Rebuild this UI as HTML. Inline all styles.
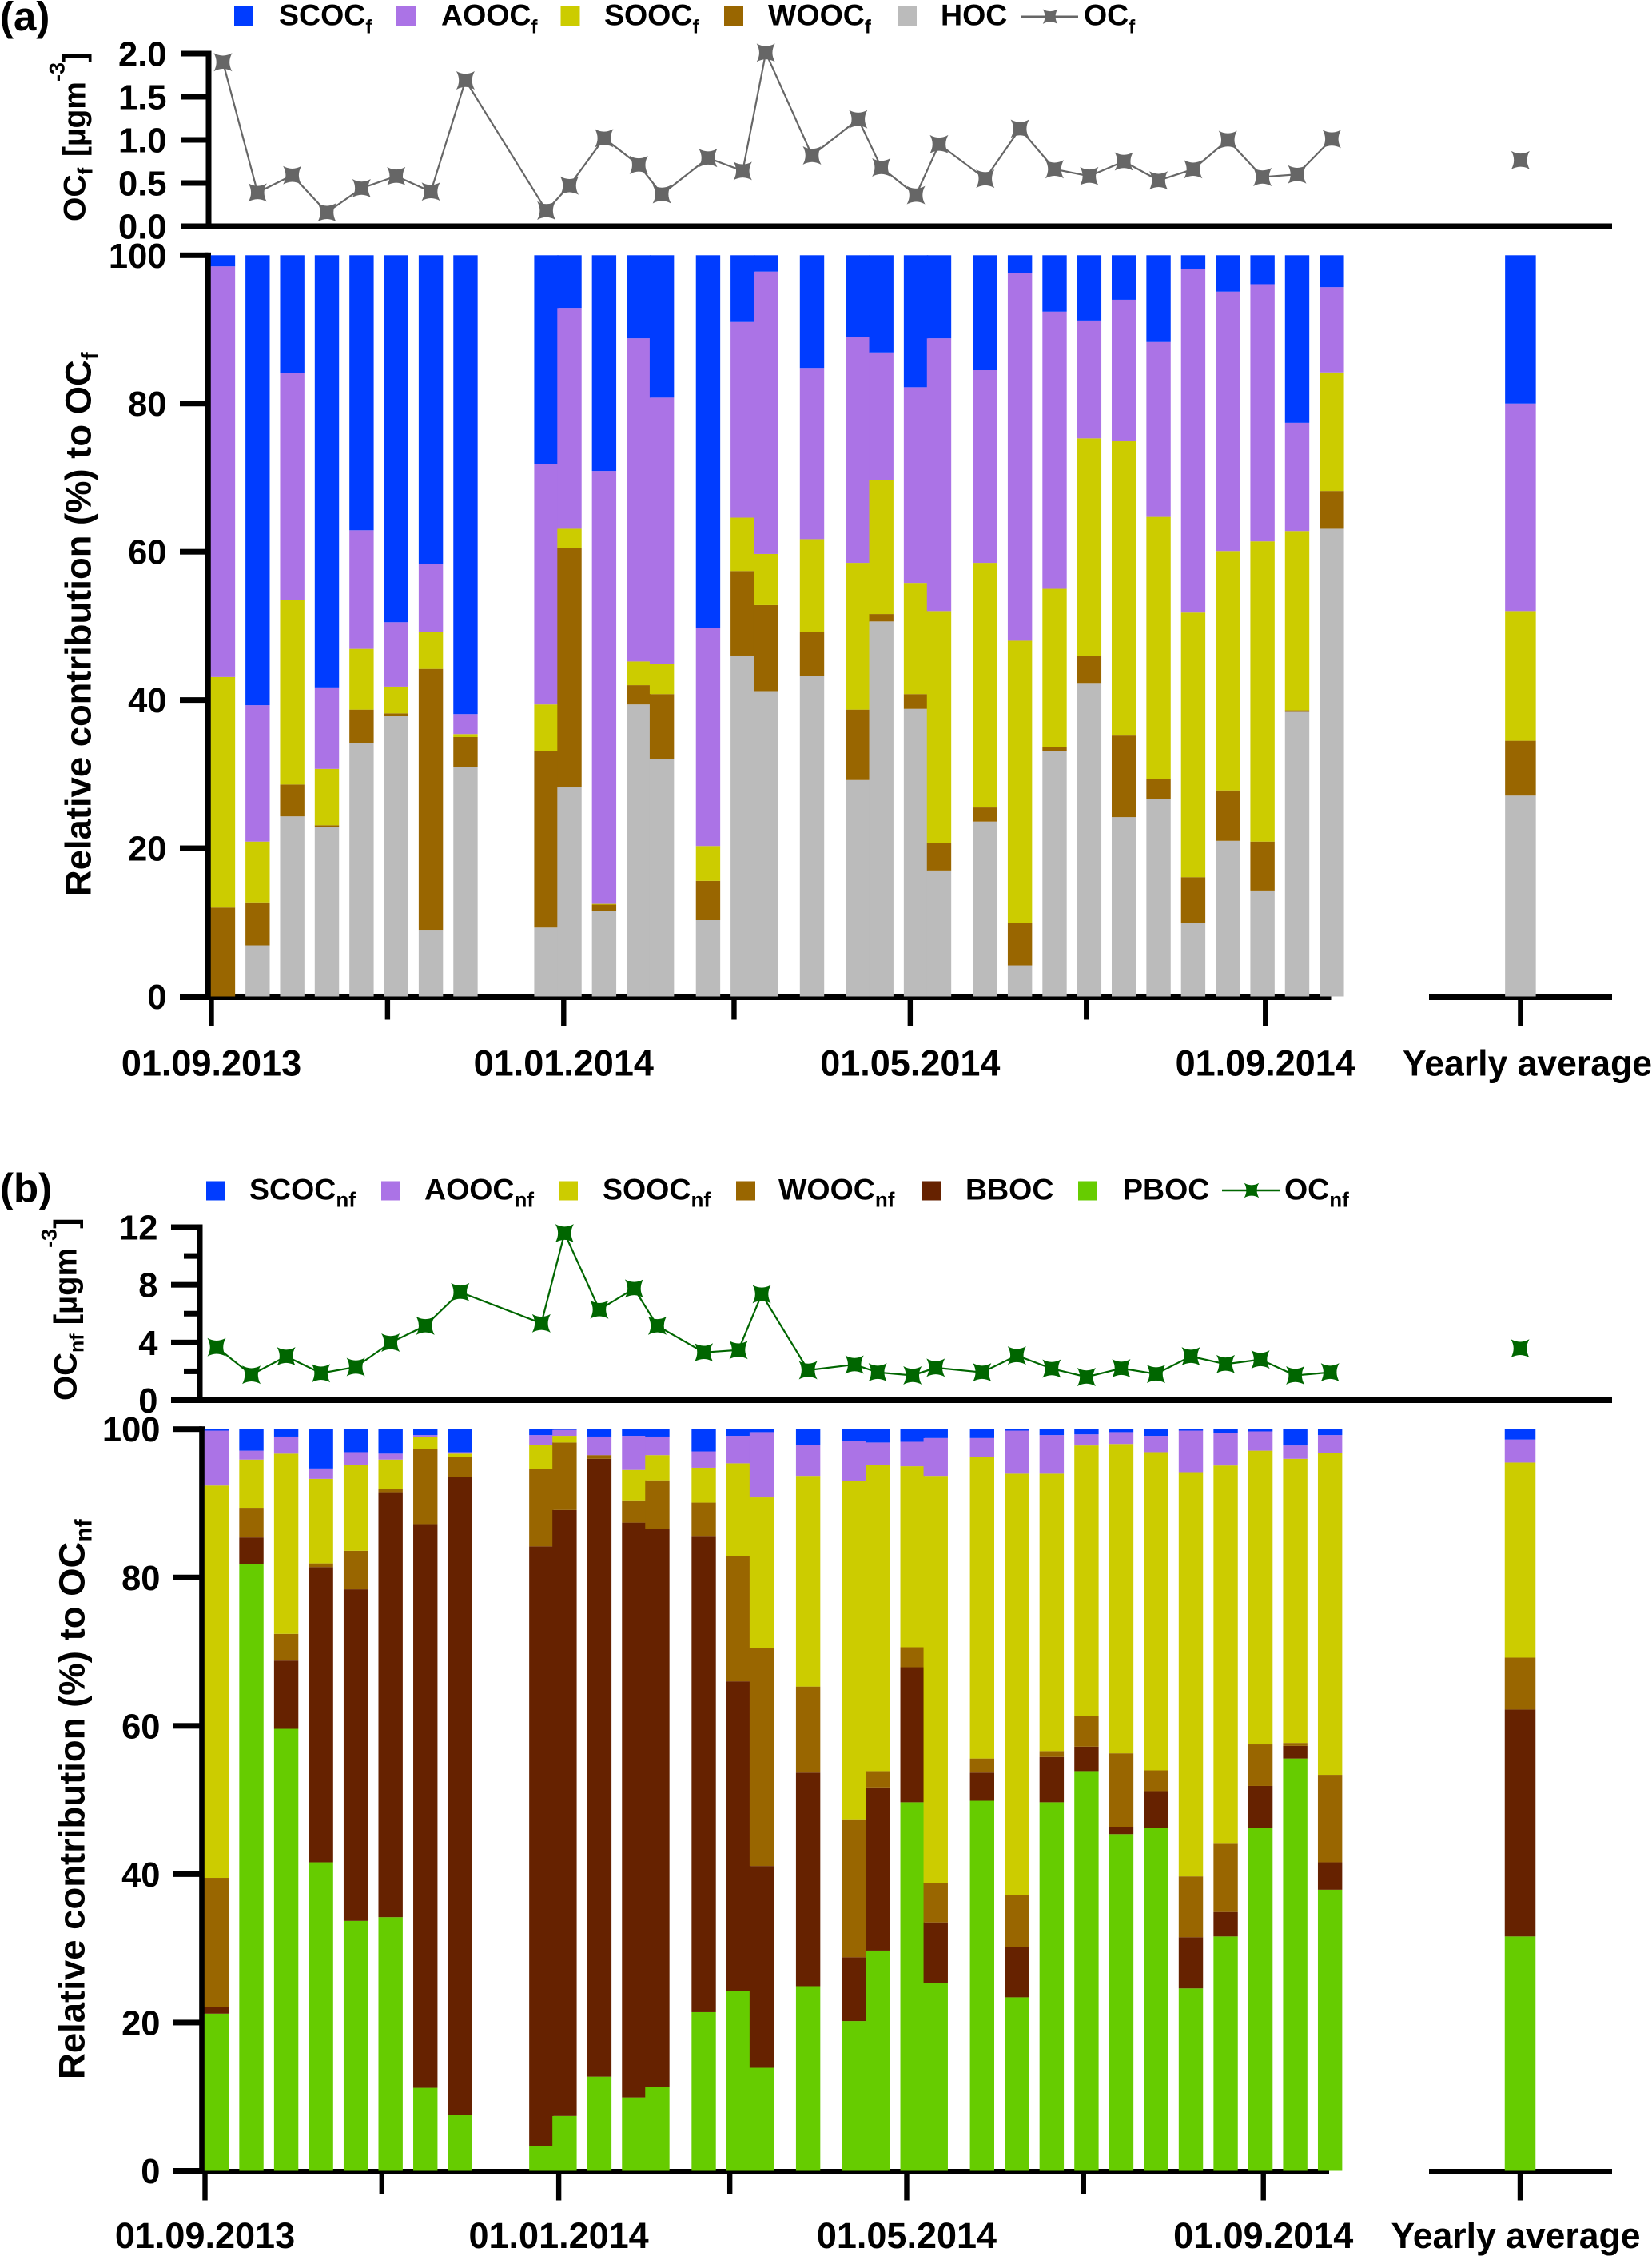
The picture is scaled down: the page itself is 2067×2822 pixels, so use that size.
<!DOCTYPE html>
<html lang="en">
<head>
<meta charset="utf-8">
<title>Relative contribution of OC sources</title>
<style>
html,body{margin:0;padding:0;background:#fff;}
svg{display:block;}
text{font-family:"Liberation Sans",Arial,sans-serif;font-weight:bold;fill:#000;}
</style>
</head>
<body>
<svg id="chart" xmlns="http://www.w3.org/2000/svg" width="2067" height="2822" viewBox="0 0 2067 2822">
  <defs>
    <path id="star" d="M-11.5,-11.5 Q0,-5 11.5,-11.5 Q5,0 11.5,11.5 Q0,5 -11.5,11.5 Q-5,0 -11.5,-11.5 Z"/>
  </defs>

  <!-- Panel a labels and legend -->
  <text x="0" y="38" font-size="51">(a)</text>
  <g>
    <rect x="293" y="8" width="24" height="24" fill="#003cff"/>
    <text x="349" y="31.5" font-size="37.5">SCOC<tspan font-size="24" dy="10">f</tspan></text>
    <rect x="496" y="8" width="24" height="24" fill="#ab73e6"/>
    <text x="552" y="31.5" font-size="37.5">AOOC<tspan font-size="24" dy="10">f</tspan></text>
    <rect x="701.5" y="8" width="24" height="24" fill="#cccc00"/>
    <text x="756" y="31.5" font-size="37.5">SOOC<tspan font-size="24" dy="10">f</tspan></text>
    <rect x="906" y="8" width="24" height="24" fill="#996600"/>
    <text x="961" y="31.5" font-size="37.5">WOOC<tspan font-size="24" dy="10">f</tspan></text>
    <rect x="1123" y="8" width="24" height="24" fill="#bbbbbb"/>
    <text x="1177" y="31.5" font-size="37.5">HOC</text>
    <line x1="1278" y1="20.7" x2="1349" y2="20.7" stroke="#666" stroke-width="2.5"/>
    <use href="#star" transform="translate(1314,20.7) scale(0.8)" fill="#666"/>
    <text x="1356" y="31.5" font-size="37.5">OC<tspan font-size="24" dy="10">f</tspan></text>
  </g>
  <text transform="translate(106.5,277) rotate(-90)" font-size="39">OC<tspan font-size="26" dy="9">f</tspan><tspan dy="-9" dx="3"> [µgm</tspan><tspan font-size="27" dy="-26">-3</tspan><tspan dy="26">]</tspan></text>
  <text transform="translate(113.3,1121) rotate(-90)" font-size="45.4">Relative contribution (%) to OC<tspan font-size="30" dy="9">f</tspan></text>

  <!-- Panel b labels and legend -->
  <text x="0" y="1503.5" font-size="51">(b)</text>
  <g>
    <rect x="258" y="1477.5" width="24" height="24" fill="#003cff"/>
    <text x="312" y="1500.4" font-size="37.5">SCOC<tspan font-size="26" dy="9">nf</tspan></text>
    <rect x="477" y="1477.5" width="24" height="24" fill="#ab73e6"/>
    <text x="531" y="1500.4" font-size="37.5">AOOC<tspan font-size="26" dy="9">nf</tspan></text>
    <rect x="699" y="1477.5" width="24" height="24" fill="#cccc00"/>
    <text x="754" y="1500.4" font-size="37.5">SOOC<tspan font-size="26" dy="9">nf</tspan></text>
    <rect x="921" y="1477.5" width="24" height="24" fill="#996600"/>
    <text x="974" y="1500.4" font-size="37.5">WOOC<tspan font-size="26" dy="9">nf</tspan></text>
    <rect x="1154" y="1477.5" width="24" height="24" fill="#662200"/>
    <text x="1208" y="1500.4" font-size="37.5">BBOC</text>
    <rect x="1349" y="1477.5" width="24" height="24" fill="#66cc00"/>
    <text x="1405" y="1500.4" font-size="37.5">PBOC</text>
    <line x1="1529" y1="1489" x2="1602" y2="1489" stroke="#006600" stroke-width="2.5"/>
    <use href="#star" transform="translate(1566,1489) scale(0.8)" fill="#006600"/>
    <text x="1607" y="1500.4" font-size="37.5">OC<tspan font-size="26" dy="9">nf</tspan></text>
  </g>
  <text transform="translate(95.5,1752) rotate(-90)" font-size="40">OC<tspan font-size="25" dy="9">nf</tspan><tspan dy="-9"> [µgm</tspan><tspan font-size="27" dy="-25">-3</tspan><tspan dy="25">]</tspan></text>
  <text transform="translate(105.7,2601) rotate(-90)" font-size="45.5">Relative contribution (%) to OC<tspan font-size="30" dy="9">nf</tspan></text>
</svg>

<script>
// ---- shared categories: sampling day, counted from 01.09.2013 ----
const sampleDays = [4,16,28,40,52,64,76,88,116,124,136,148,156,172,184,192,208,224,232,244,252,268,280,292,304,316,328,340,352,364,376,388];
const dateTickDays = [0,122,242,365];
const dateTickLabels = ["01.09.2013","01.01.2014","01.05.2014","01.09.2014"];
const minorTickDays = [61,181,303];
const yearlyLabel = "Yearly average";

// ---- tick labels ----
const ocFTicks = [0,0.5,1,1.5,2];
const ocFTickLabels = ["0.0","0.5","1.0","1.5","2.0"];
const ocNfMajorTicks = [0,4,8,12];
const ocNfTickLabels = ["0","4","8","12"];
const ocNfMinorTicks = [2,6,10];
const shareTicks = [0,20,40,60,80,100];
const shareTickLabels = ["0","20","40","60","80","100"];

// ---- panel (a) values ----
const ocF = [1.90,0.39,0.59,0.16,0.44,0.58,0.40,1.69,0.18,0.47,1.02,0.71,0.37,0.79,0.64,2.01,0.82,1.24,0.68,0.36,0.95,0.55,1.13,0.66,0.58,0.75,0.53,0.66,1.00,0.57,0.60,1.01];
const ocFYearly = [0.765];
const hocF = [0,6.9,24.3,22.9,34.2,37.8,9.0,30.9,9.3,28.2,11.5,39.4,32.0,10.3,46.0,41.2,43.3,29.2,50.6,38.8,17.0,23.6,4.2,33.1,42.3,24.2,26.6,9.9,21.0,14.3,38.4,63.1];
const woocF = [12.0,5.8,4.3,0.2,4.5,0.4,35.2,4.1,23.8,32.3,0.9,2.6,8.8,5.3,11.4,11.6,5.9,9.5,1.0,2.0,3.7,1.9,5.7,0.5,3.7,11.0,2.7,6.2,6.8,6.6,0.2,5.1];
const soocF = [31.1,8.2,24.9,7.6,8.2,3.6,5.0,0.4,6.3,2.6,0.1,3.2,4.1,4.7,7.2,6.9,12.5,19.8,18.1,15.0,31.3,33.0,38.1,21.4,29.3,39.7,35.4,35.7,32.3,40.5,24.2,16.0];
const aoocF = [55.4,18.4,30.6,11.0,16.0,8.7,9.2,2.7,32.4,29.8,58.4,43.6,35.9,29.4,26.4,38.1,23.1,30.5,17.2,26.4,36.8,26.0,49.6,37.4,15.9,19.1,23.6,46.4,35.0,34.7,14.6,11.5];
const scocF = [1.5,60.7,15.9,58.3,37.1,49.5,41.6,61.9,28.2,7.1,29.1,11.2,19.2,50.3,9.0,2.2,15.2,11.0,13.1,17.8,11.2,15.5,2.4,7.6,8.8,6.0,11.7,1.8,4.9,3.9,22.6,4.3];
const yearlyF = [27.1,7.4,17.5,28.0,20.0];

// ---- panel (b) values ----
const ocNf = [3.67,1.76,3.04,1.87,2.30,3.99,5.16,7.49,5.33,11.58,6.28,7.74,5.16,3.31,3.48,7.35,2.08,2.47,1.93,1.72,2.25,1.93,3.10,2.19,1.61,2.21,1.82,3.04,2.50,2.82,1.72,1.93];
const ocNfYearly = [3.59];
const pboc = [21.2,81.8,59.6,41.6,33.7,34.2,11.2,7.5,3.3,7.4,12.7,9.9,11.3,21.4,24.3,13.9,24.9,20.2,29.7,49.7,25.3,49.9,23.4,49.7,53.9,45.4,46.2,24.6,31.6,46.2,55.6,37.9];
const bboc = [0.9,3.6,9.2,39.8,44.7,57.3,76.0,86.0,80.9,81.7,83.3,77.5,75.2,64.2,41.7,27.2,28.8,8.6,22.0,18.2,8.2,3.8,6.8,6.1,3.3,1.0,5.0,6.9,3.3,5.7,1.7,3.7];
const woocNf = [17.4,4.0,3.6,0.5,5.2,0.4,10.1,2.8,10.4,9.1,0.5,3.0,6.6,4.5,16.9,29.4,11.6,18.6,2.2,2.7,5.3,1.9,7.0,0.8,4.1,9.9,2.8,8.2,9.2,5.6,0.4,11.8];
const soocNf = [52.9,6.5,24.3,11.4,11.6,4.0,1.7,0.4,3.3,0.9,0,4.1,3.4,4.7,12.5,20.3,28.4,45.6,41.3,24.4,54.9,40.7,56.8,37.4,36.5,41.7,42.9,54.5,51.0,39.6,38.3,43.4];
const aoocNf = [7.4,1.2,2.3,1.4,1.7,0.8,0.2,0.2,1.3,0.8,2.5,4.6,2.5,2.2,3.7,8.8,4.2,5.4,3.0,3.3,5.1,2.5,5.8,5.2,1.5,1.6,2.2,5.6,4.4,2.6,1.8,2.4];
const scocNf = [0.2,2.9,1.0,5.3,3.1,3.3,0.8,3.1,0.8,0.1,1.0,0.9,1.0,3.0,0.9,0.4,2.1,1.6,1.8,1.7,1.2,1.2,0.2,0.8,0.7,0.4,0.9,0.2,0.5,0.3,2.2,0.8];
const yearlyNf = [31.6,30.6,7.0,26.3,3.1,1.4];

const seriesNamesF = ["hoc","wooc-f","sooc-f","aooc-f","scoc-f"];
const seriesNamesNf = ["pboc","bboc","wooc-nf","sooc-nf","aooc-nf","scoc-nf"];

const svg = document.getElementById('chart');
const NS = 'http://www.w3.org/2000/svg';
function make(tag, props, parent) {
  const node = document.createElementNS(NS, tag);
  for (const key in props) node.setAttribute(key, props[key]);
  parent.appendChild(node);
  return node;
}

function drawPanel(p) {
  const root = make('g', {}, svg);
  
  

  const xDay = d => p.x0 + p.dayScale * d;
  const yTop = v => p.topZero - p.topScale * v;
  const yShare = v => p.shareZero - p.shareScale * v;

  // --- upper plot axes ---
  const topAxisY = make('rect', {x: p.axisX - 3.5, y: p.topAxisStart, width: 7, height: p.topZero - p.topAxisStart + 3.5, fill: '#000'}, root);
  
  
  const topAxisX = make('rect', {x: p.tickLeft, y: p.topZero - 3.5, width: 2017 - p.tickLeft, height: 7, fill: '#000'}, root);
  
  

  p.topTicks.forEach((v, i) => {
    const tick = make('rect', {x: p.tickLeft, y: yTop(v) - 3.5, width: p.axisX - p.tickLeft, height: 7, fill: '#000'}, root);
    
    
    const label = make('text', {x: p.topLabelX, y: yTop(v) + 15.5, 'font-size': 43.5, 'text-anchor': 'end'}, root);
    label.textContent = p.topTickLabels[i];
    
    
  });
  p.topMinor.forEach(v => {
    const tick = make('rect', {x: p.axisX - 20, y: yTop(v) - 3.5, width: 20, height: 7, fill: '#000'}, root);
    
    
  });

  // --- lower plot axes ---
  const shareAxisY = make('rect', {x: p.shareAxisX - 3.5, y: yShare(100) - 3.5, width: 7, height: p.shareScale * 100 + 7, fill: '#000'}, root);
  
  
  const shareAxisX = make('rect', {x: p.shareTickLeft, y: p.shareZero - 2.5, width: p.axisEnd - p.shareTickLeft, height: 7, fill: '#000'}, root);
  
  
  const yearlyAxisX = make('rect', {x: 1788, y: p.shareZero - 2.5, width: 229, height: 7, fill: '#000'}, root);
  
  

  shareTicks.forEach((v, i) => {
    const tick = make('rect', {x: p.shareTickLeft, y: yShare(v) - 3.5, width: p.shareAxisX - p.shareTickLeft, height: 7, fill: '#000'}, root);
    
    
    const label = make('text', {x: p.shareLabelX, y: yShare(v) + 15.5, 'font-size': 43.5, 'text-anchor': 'end'}, root);
    label.textContent = shareTickLabels[i];
    
    
  });

  dateTickDays.forEach((d, i) => {
    const tick = make('rect', {x: xDay(d) - 3.2, y: p.shareZero, width: 6.4, height: 37, fill: '#000'}, root);
    
    
    const label = make('text', {x: xDay(d), y: p.dateBaseline, 'font-size': 45, 'text-anchor': 'middle'}, root);
    label.textContent = dateTickLabels[i];
    
    
  });
  minorTickDays.forEach(d => {
    const tick = make('rect', {x: xDay(d) - 3.2, y: p.shareZero, width: 6.4, height: 29, fill: '#000'}, root);
    
    
  });
  const yTick = make('rect', {x: p.yearlyX - 3.2, y: p.shareZero, width: 6.4, height: 37, fill: '#000'}, root);
  
  
  const yLabel = make('text', {x: p.yearlyLabelX, y: p.dateBaseline, 'font-size': 45, 'text-anchor': 'middle', textLength: 312, lengthAdjust: 'spacingAndGlyphs'}, root);
  yLabel.textContent = yearlyLabel;
  
  

  // --- stacked bars ---
  const drawStack = (cx, width, values, barName) => {
    let base = 0;
    values.forEach((value, s) => {
      if (value <= 0) return;
      const seg = make('rect', {
        x: cx - width / 2,
        y: yShare(base + value),
        width: width,
        height: yShare(base) - yShare(base + value),
        fill: p.colors[s]
      }, root);
      
      
      base += value;
    });
  };
  sampleDays.forEach((d, i) => {
    drawStack(xDay(d), 30.4, p.series.map(col => col[i]), 'bar-day-' + d);
  });
  drawStack(p.yearlyX, 38.5, p.yearlyValues, 'bar-yearly');

  // --- OC line and markers ---
  const points = sampleDays.map((d, i) => xDay(d) + ',' + yTop(p.oc[i])).join(' ');
  const line = make('polyline', {points: points, fill: 'none', stroke: p.markerColor, 'stroke-width': 2.2}, root);
  
  
  const marker = (x, y, name) => {
    const m = make('use', {href: '#star', transform: 'translate(' + x + ',' + y + ')', fill: p.markerColor}, root);
    
    
  };
  sampleDays.forEach((d, i) => marker(xDay(d), yTop(p.oc[i]), 'oc-point-day-' + d));
  marker(p.yearlyX, yTop(p.ocYearly[0]), 'oc-point-yearly');
}

drawPanel({
  id: 'a',
  x0: 264.5, dayScale: 3.613,
  axisX: 261, shareAxisX: 260.5,
  tickLeft: 226, shareTickLeft: 225,
  topAxisStart: 63.5, topZero: 283, topScale: 108,
  shareZero: 1246.5, shareScale: 9.272,
  topTicks: ocFTicks, topTickLabels: ocFTickLabels, topMinor: [],
  topLabelX: 208.5, shareLabelX: 208.5,
  axisEnd: 1665.5, yearlyX: 1902.4, yearlyLabelX: 1911, dateBaseline: 1345.5,
  series: [hocF, woocF, soocF, aoocF, scocF],
  names: seriesNamesF,
  colors: ['#bbbbbb','#996600','#cccc00','#ab73e6','#003cff'],
  yearlyValues: yearlyF,
  oc: ocF, ocYearly: ocFYearly, markerColor: '#666666'
});

drawPanel({
  id: 'b',
  x0: 256.5, dayScale: 3.628,
  axisX: 250, shareAxisX: 252.7,
  tickLeft: 214, shareTickLeft: 217,
  topAxisStart: 1531.5, topZero: 1751.5, topScale: 18.04,
  shareZero: 2715.5, shareScale: 9.278,
  topTicks: ocNfMajorTicks, topTickLabels: ocNfTickLabels, topMinor: ocNfMinorTicks,
  topLabelX: 197.5, shareLabelX: 200.5,
  axisEnd: 1663, yearlyX: 1902, yearlyLabelX: 1896.5, dateBaseline: 2812,
  series: [pboc, bboc, woocNf, soocNf, aoocNf, scocNf],
  names: seriesNamesNf,
  colors: ['#66cc00','#662200','#996600','#cccc00','#ab73e6','#003cff'],
  yearlyValues: yearlyNf,
  oc: ocNf, ocYearly: ocNfYearly, markerColor: '#006600'
});
</script>
</body>
</html>
